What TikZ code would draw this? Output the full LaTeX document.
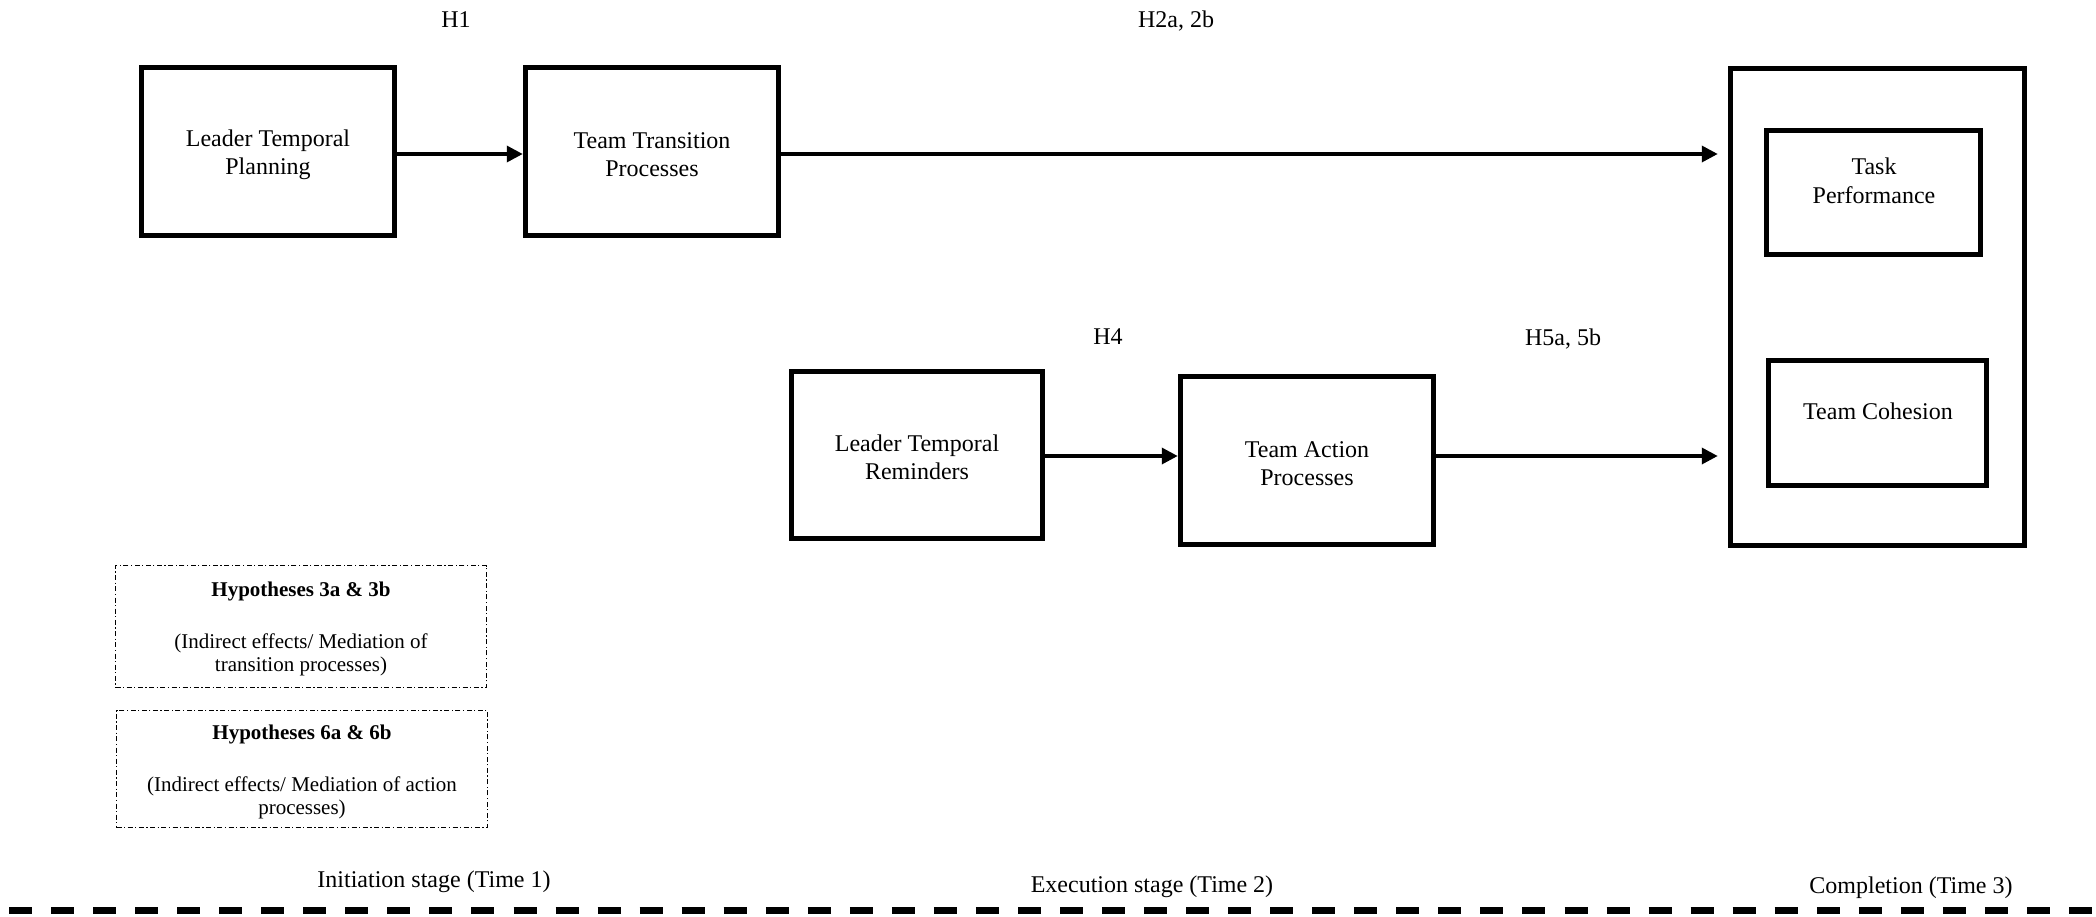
\documentclass[tikz,border=0pt]{standalone}
\usepackage{fontspec}
\setmainfont{Liberation Serif}
\usetikzlibrary{arrows.meta,calc}
\begin{document}
\begin{tikzpicture}[x=1pt,y=-1pt,
  box/.style={draw,line width=5.5pt,inner sep=0pt},
  hypbox/.style={draw,line width=1.2pt,dash pattern=on 5pt off 2.5pt on 1.2pt off 2.5pt,inner sep=0pt},
  lbl/.style={font=\fontsize{24}{28.5}\selectfont,inner sep=0pt,align=center},
  small/.style={font=\fontsize{21}{24}\selectfont,inner sep=0pt,anchor=base},
  arr/.style={line width=3.5pt,-{Triangle[length=16pt,width=16pt]}}]
\useasboundingbox (0,0) rectangle (2096,916);

% main boxes
\node[box,minimum width=253pt,minimum height=168pt] (ltp) at (268,151.5) {};
\node[lbl] (ltpt) at (268,155) {Leader Temporal\\Planning};
\node[box,minimum width=253pt,minimum height=168pt] (ttp) at (652,151.5) {};
\node[lbl] (ttpt) at (652,154.5) {Team Transition\\Processes};
\node[box,minimum width=251pt,minimum height=167pt] (ltr) at (917,455) {};
\node[lbl] (ltrt) at (917,457.5) {Leader Temporal\\Reminders};
\node[box,minimum width=253pt,minimum height=168pt] (tap) at (1307,460.5) {};
\node[lbl] (tapt) at (1307,463.5) {Team Action\\Processes};
\node[box,minimum width=294pt,minimum height=477pt] (out) at (1877.5,307) {};
\node[box,minimum width=214pt,minimum height=124pt] (tp) at (1873.5,192.5) {};
\node[lbl] (tpt) at (1874,181) {Task\\Performance};
\node[box,minimum width=218pt,minimum height=125pt] (tc) at (1877.5,423) {};
\node[lbl] (tct) at (1878,411) {Team Cohesion};

% hypothesis labels
\node[lbl,anchor=base] (h1) at (456,27) {H1};
\node[lbl,anchor=base] (h2) at (1176,27) {H2a, 2b};
\node[lbl,anchor=base] (h4) at (1108,344) {H4};
\node[lbl,anchor=base] (h5) at (1563,345) {H5a, 5b};

% arrows
\draw[arr] ([yshift=-2.5pt]ltp.east) -- ([yshift=-2.5pt]ttp.west);
\draw[arr] ([yshift=-2.5pt]ttp.east) -- ($(out.west |- ttp.east)+(-10,2.5)$);
\draw[arr] ([yshift=-1pt]ltr.east) -- ($(tap.west |- ltr.east)+(0,1)$);
\draw[arr] ($(tap.east |- ltr.east)+(0,1)$) -- ($(out.west |- ltr.east)+(-10,1)$);

% dashed hypothesis boxes
\node[hypbox,minimum width=371pt,minimum height=122pt] (hb1) at (301,626.5) {};
\node[small,font=\fontsize{21}{24}\selectfont\bfseries] (hb1t) at (301,596) {Hypotheses 3a \& 3b};
\node[small] (hb1a) at (301,648) {(Indirect effects/ Mediation of};
\node[small] (hb1b) at (301,671) {transition processes)};
\node[hypbox,minimum width=371pt,minimum height=117pt] (hb2) at (302,769) {};
\node[small,font=\fontsize{21}{24}\selectfont\bfseries] (hb2t) at (302,739.5) {Hypotheses 6a \& 6b};
\node[small] (hb2a) at (302,791) {(Indirect effects/ Mediation of action};
\node[small] (hb2b) at (302,814) {processes)};

% stage labels
\node[lbl,anchor=base] (s1) at (434,887) {Initiation stage (Time 1)};
\node[lbl,anchor=base] (s2) at (1152,892) {Execution stage (Time 2)};
\node[lbl,anchor=base] (s3) at (1911,893) {Completion (Time 3)};

% timeline
\coordinate (tl0) at (0,910);
\coordinate (tl1) at (2096,910);
\draw[line width=7pt,dash pattern=on 23pt off 19.04pt,dash phase=33pt] (tl0) -- (tl1);
\end{tikzpicture}
\end{document}
